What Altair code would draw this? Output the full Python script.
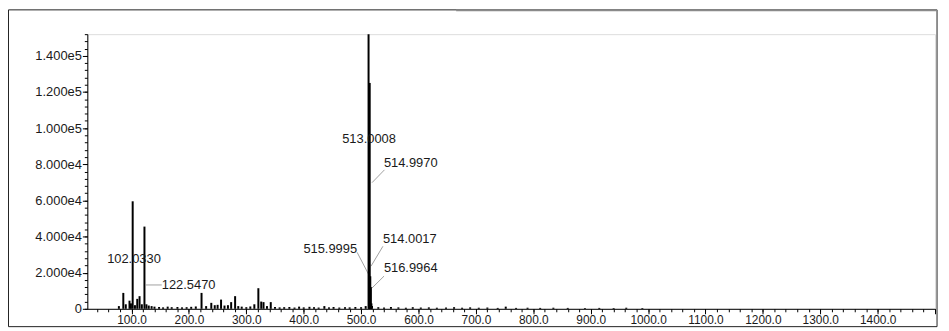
import altair as alt
import pandas as pd

# ---- data ----
peak_mz = [78, 85.7, 90, 96.5, 99, 102.033, 106, 110, 114, 118, 122.547, 126, 130, 135, 140,
           148, 155, 163, 170, 180, 188, 196, 204, 212, 222, 230, 239, 245, 250, 256, 262,
           268, 273.6, 280.5, 286, 292, 300, 307, 314, 321, 326, 330, 336, 342.6, 350, 358,
           366, 375, 384, 392, 400, 410, 418, 426, 436, 444, 452, 462, 472, 480, 490, 500,
           508, 513.0008, 514.0017, 514.997, 515.9995, 516.9964, 518, 519,
           530, 540, 552, 565, 578, 590, 604, 618, 632, 648, 662, 676, 690, 705, 720,
           738, 752, 770, 790, 812, 835, 860, 890, 915, 940, 962, 990]
peak_int = [1500, 8800, 2500, 4500, 3000, 59500, 2000, 5500, 7000, 2500, 45500, 2500, 1800,
            1500, 1200, 1000, 800, 1200, 900, 1000, 800, 900, 1100, 1300, 8800, 1500, 3300,
            2000, 2200, 5100, 1800, 2000, 3700, 7000, 1500, 1200, 900, 1300, 2500, 11400,
            4000, 3700, 1500, 3700, 1000, 800, 900, 1000, 700, 1200, 800, 1100, 900, 700,
            1500, 800, 1000, 700, 900, 800, 1000, 900, 1500, 152000, 25000, 125000, 18000,
            12000, 3000, 1500, 900, 700, 1000, 800, 600, 900, 700, 800, 600, 700, 900, 600,
            800, 600, 700, 500, 1200, 500, 600, 500, 600, 500, 400, 500, 400, 600, 400]

label_text = ["513.0008", "514.9970", "514.0017", "516.9964", "515.9995", "102.0330", "122.5470"]
label_mz = [513.8, 539.7, 538.0, 539.7, 493.0, 104.3, 152.7]
label_int = [94000, 80800, 38500, 22500, 33000, 27500, 13200]
label_align = ["center", "left", "left", "left", "right", "center", "left"]

leader_mz1 = [519.0, 517.3, 519.0, 515.5, 125.0]
leader_int1 = [69800, 23600, 11500, 17600, 13200]
leader_mz2 = [540.7, 538.0, 540.0, 493.0, 152.7]
leader_int2 = [76900, 34600, 18100, 31300, 13200]

x_major = list(range(100, 1600, 100))
x_minor = list(range(40, 1501, 20))
y_major = list(range(0, 140001, 20000))
y_minor = list(range(0, 152001, 4000))

FONT = "Liberation Sans"
TXT = "#1a1a1a"

peaks = pd.DataFrame({"mz": peak_mz, "inten": peak_int})
labels = pd.DataFrame({"text": label_text, "mz": label_mz, "inten": label_int, "align": label_align})
leaders = pd.DataFrame({"mz1": leader_mz1, "i1": leader_int1, "mz2": leader_mz2, "i2": leader_int2})

xscale = alt.Scale(domain=[23, 1500], nice=False, zero=False)
yscale = alt.Scale(domain=[0, 152000], nice=False)

major_x = alt.Axis(values=x_major, orient="bottom", title=None, grid=False,
                   labelExpr="datum.value >= 1500 ? '' : format(datum.value, '.1f')",
                   tickSize=5, tickColor="black", domainColor="black", labelColor=TXT,
                   labelFont=FONT, labelFontSize=12, labelPadding=1, labelFlush=False,
                   labelOverlap=False)
major_y = alt.Axis(values=y_major, orient="left", title=None, grid=False,
                   labelExpr="datum.value == 0 ? '0' : replace(format(datum.value, '.3e'), '+', '')",
                   tickSize=5, tickColor="black", domainColor="black", labelColor=TXT,
                   labelFont=FONT, labelFontSize=13, labelPadding=1, labelOverlap=False)
minor_x = alt.Axis(values=x_minor, orient="bottom", title=None, grid=False, labels=False,
                   domain=False, tickSize=3, tickColor="black")
minor_y = alt.Axis(values=y_minor, orient="left", title=None, grid=False, labels=False,
                   domain=False, tickSize=3, tickColor="black")

peak_layer = alt.Chart(peaks).mark_rule(color="black", strokeWidth=2).encode(
    x=alt.X("mz:Q", scale=xscale, axis=major_x),
    y=alt.Y("inten:Q", scale=yscale, axis=major_y),
    y2=alt.datum(0),
)

leader_layer = alt.Chart(leaders).mark_rule(color="#a0a0a0", strokeWidth=1).encode(
    x=alt.X("mz1:Q", scale=xscale, axis=None),
    y=alt.Y("i1:Q", scale=yscale, axis=None),
    x2="mz2:Q",
    y2="i2:Q",
)

def text_layer(al, with_axis):
    return alt.Chart(labels).transform_filter(alt.datum.align == al).mark_text(
        font=FONT, fontSize=13, color=TXT, align=al, baseline="middle"
    ).encode(
        x=alt.X("mz:Q", scale=xscale, axis=minor_x if with_axis else None),
        y=alt.Y("inten:Q", scale=yscale, axis=minor_y if with_axis else None),
        text="text:N",
    )

frame_df = pd.DataFrame({"a": [0]})
frame = alt.Chart(frame_df).mark_rect(fill=None, stroke="#202020", strokeWidth=1).encode(
    x=alt.value(-79.5), x2=alt.value(857), y=alt.value(-24.5), y2=alt.value(295)
)
frame_top = alt.Chart(frame_df).mark_rule(color="#8a8a8a", strokeWidth=2).encode(
    x=alt.value(372), x2=alt.value(857), y=alt.value(-24)
)

chart = alt.layer(
    frame, frame_top, leader_layer, peak_layer,
    text_layer("center", True), text_layer("left", False), text_layer("right", False)
).resolve_axis(x="independent", y="independent").properties(
    width=855, height=277,
    autosize=alt.AutoSizeParams(type="none"),
    padding={"left": 80, "top": 25, "right": 6, "bottom": 21},
).configure_view(stroke=None).configure(background="white")

chart.save("out.html", embed_options={"renderer": "svg", "actions": False})
